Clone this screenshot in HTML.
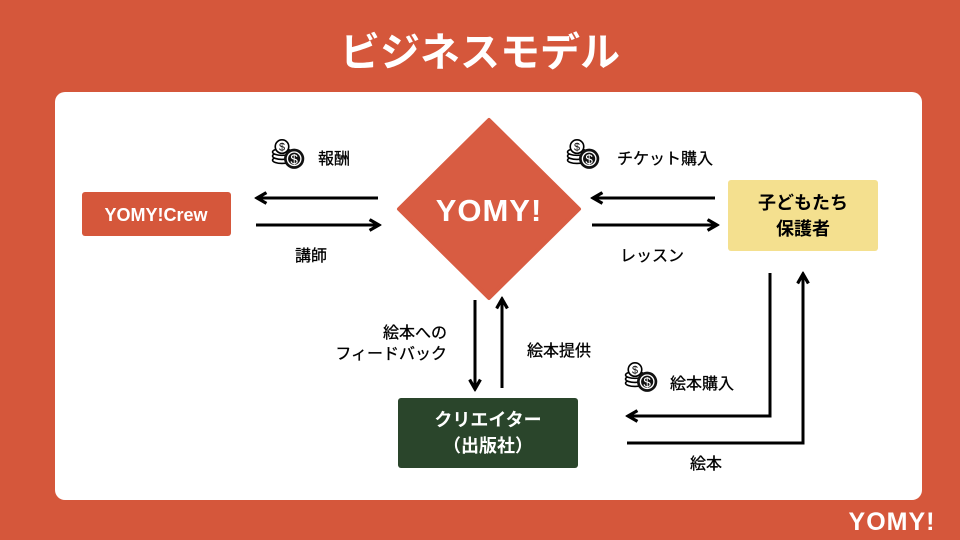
<!DOCTYPE html>
<html><head><meta charset="utf-8"><style>
html,body{margin:0;padding:0;width:960px;height:540px;overflow:hidden;background:#d5573b}
svg{display:block}
text{font-family:"Liberation Sans","Noto Sans CJK JP",sans-serif}
</style></head><body>
<svg width="960" height="540" viewBox="0 0 960 540">
<defs>
<marker id="ah" viewBox="0 0 10 10" refX="8" refY="5" markerWidth="4.5" markerHeight="4.5" orient="auto-start-reverse">
<path d="M1,1 L8,5 L1,9" fill="none" stroke="#000" stroke-width="2.4"/>
</marker>
<g id="coin">
<ellipse cx="0" cy="6" rx="7" ry="2.5" fill="#fff" stroke="#000" stroke-width="1.2"/>
<ellipse cx="0" cy="3" rx="7" ry="2.5" fill="#fff" stroke="#000" stroke-width="1.2"/>
<ellipse cx="0" cy="0" rx="7" ry="2.5" fill="#fff" stroke="#000" stroke-width="1.2"/>
<circle cx="0" cy="-4" r="5" fill="#fff" stroke="#000" stroke-width="1.2"/>
<text x="0" y="-1" font-size="8" text-anchor="middle">$</text>
<circle cx="9" cy="5" r="7.5" fill="#111"/>
<circle cx="9" cy="5" r="5" fill="none" stroke="#fff" stroke-width="1"/>
<text x="9" y="9" font-size="10" text-anchor="middle" fill="#fff">$</text>
</g>
</defs>
<text x="480" y="66" font-size="40" font-weight="bold" fill="#fff" text-anchor="middle">ビジネスモデル</text>
<rect x="55" y="92" width="867" height="408" rx="10" fill="#fff"/>
<polygon points="489,120 579,209 489,298 399,209" fill="#d85c42" stroke="#d85c42" stroke-width="4" stroke-linejoin="round"/>
<text x="489" y="221" font-size="31" font-weight="900" fill="#fff" text-anchor="middle" letter-spacing="1">YOMY!</text>

<rect x="82" y="192" width="149" height="44" rx="3" fill="#d5573b"/>
<text x="156" y="221" font-size="18" font-weight="bold" fill="#fff" text-anchor="middle">YOMY!Crew</text>

<rect x="728" y="180" width="150" height="71" rx="3" fill="#f4e08f"/>
<text x="803" y="209" font-size="18" font-weight="bold" fill="#000" text-anchor="middle">子どもたち</text>
<text x="803" y="235" font-size="18" font-weight="bold" fill="#000" text-anchor="middle">保護者</text>

<rect x="398" y="398" width="180" height="70" rx="3" fill="#2a452b"/>
<text x="488" y="426" font-size="18" font-weight="bold" fill="#fff" text-anchor="middle">クリエイター</text>
<text x="488" y="452" font-size="18" font-weight="bold" fill="#fff" text-anchor="middle">（出版社）</text>

<g stroke="#000" stroke-width="3" fill="none" marker-end="url(#ah)">
<line x1="378" y1="198" x2="257" y2="198"/>
<line x1="256" y1="225" x2="379" y2="225"/>
<line x1="715" y1="198" x2="593" y2="198"/>
<line x1="592" y1="225" x2="717" y2="225"/>
<line x1="475" y1="300" x2="475" y2="389"/>
<line x1="502" y1="388" x2="502" y2="299"/>
<polyline points="770,273 770,416 628,416"/>
<polyline points="627,443 803,443 803,274"/>
</g>

<g font-size="16" fill="#000" stroke="#000" stroke-width="0.3">
<text x="318" y="164">報酬</text>
<text x="295" y="261">講師</text>
<text x="617" y="164">チケット購入</text>
<text x="620" y="261">レッスン</text>
<text x="447" y="338" text-anchor="end">絵本への</text>
<text x="447" y="359" text-anchor="end">フィードバック</text>
<text x="527" y="356">絵本提供</text>
<text x="670" y="389">絵本購入</text>
<text x="690" y="469">絵本</text>
</g>
<use href="#coin" transform="translate(282,152) scale(1.35)"/>
<use href="#coin" transform="translate(577,152) scale(1.35)"/>
<use href="#coin" transform="translate(635,375) scale(1.35)"/>

<text x="892" y="530" font-size="25" font-weight="900" fill="#fff" text-anchor="middle" letter-spacing="1">YOMY!</text>
</svg>
</body></html>
